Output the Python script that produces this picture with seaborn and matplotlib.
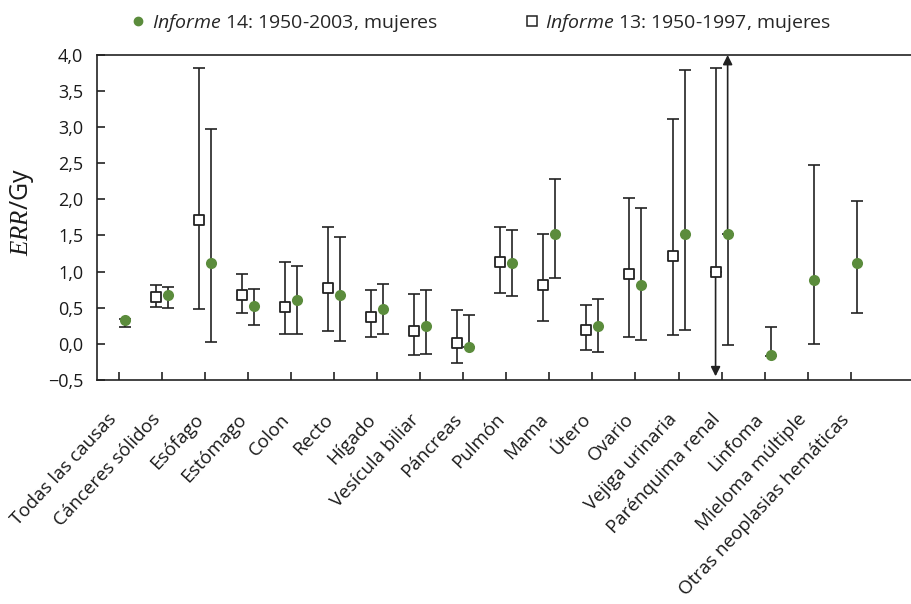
import matplotlib
matplotlib.use("Agg")
import matplotlib.pyplot as plt
import matplotlib.transforms as mtransforms
from matplotlib.lines import Line2D
import seaborn as sns
import numpy as np
import pandas as pd

categories = ["Todas las causas", "Cánceres sólidos", "Esófago", "Estómago", "Colon",
              "Recto", "Hígado", "Vesícula biliar", "Páncreas", "Pulmón", "Mama",
              "Útero", "Ovario", "Vejiga urinaria", "Parénquima renal", "Linfoma",
              "Mieloma múltiple", "Otras neoplasias hemáticas"]

# Informe 14 (1950-2003), mujeres
err14 = [0.33, 0.68, 1.12, 0.53, 0.60, 0.68, 0.48, 0.25, -0.04, 1.12, 1.52, 0.24,
         0.81, 1.52, 1.52, -0.16, 0.89, 1.12]
low14 = [0.23, 0.50, 0.02, 0.26, 0.14, 0.04, 0.13, -0.14, -0.05, 0.66, 0.91, -0.11,
         0.05, 0.19, -0.01, -0.17, 0.00, 0.42]
high14 = [0.34, 0.78, 2.98, 0.76, 1.08, 1.48, 0.83, 0.74, 0.40, 1.58, 2.28, 0.62,
          1.88, 3.79, 4.00, 0.23, 2.48, 1.98]
arrow_up14 = [False] * 14 + [True] + [False] * 3

# Informe 13 (1950-1997), mujeres
cats13 = categories[1:15]
err13 = [0.65, 1.72, 0.67, 0.51, 0.77, 0.37, 0.18, 0.01, 1.13, 0.82, 0.19, 0.97, 1.22, 0.99]
low13 = [0.51, 0.48, 0.42, 0.13, 0.18, 0.09, -0.15, -0.26, 0.70, 0.31, -0.08, 0.09, 0.12, -0.45]
high13 = [0.81, 3.82, 0.97, 1.13, 1.62, 0.74, 0.69, 0.47, 1.62, 1.52, 0.54, 2.02, 3.12, 3.82]
arrow_down13 = [False] * 13 + [True]

yticks = [-0.5, 0.0, 0.5, 1.0, 1.5, 2.0, 2.5, 3.0, 3.5, 4.0]
label14 = r"$\mathit{Informe}$ 14: 1950-2003, mujeres"
label13 = r"$\mathit{Informe}$ 13: 1950-1997, mujeres"

GREEN = "#5b8c3c"
INK = "#222222"
FONT = "Open Sans"

sns.set_theme(style="white")
plt.rcParams["font.family"] = [FONT, "DejaVu Sans"]
plt.rcParams["mathtext.fontset"] = "custom"
plt.rcParams["mathtext.rm"] = FONT
plt.rcParams["mathtext.it"] = FONT + ":italic"
plt.rcParams["mathtext.cal"] = "Liberation Serif:italic"

fig = plt.figure(figsize=(9.12, 6.04), dpi=100)
ax = fig.add_axes([0.1064, 0.371, 0.8936, 0.538])

off = 0.14
idx = {c: i for i, c in enumerate(categories)}

df14 = pd.DataFrame({"cat": categories, "err": err14, "low": low14, "high": high14,
                     "up": arrow_up14})
df14["x"] = df14["cat"].map(idx) + off
df13 = pd.DataFrame({"cat": cats13, "err": err13, "low": low13, "high": high13,
                     "down": arrow_down13})
df13["x"] = df13["cat"].map(idx) - off

ekw = dict(fmt="none", ecolor=INK, elinewidth=1.2, capsize=4, capthick=1.2, zorder=2)
akw = dict(arrowstyle="-|>", color=INK, lw=1.2, mutation_scale=14, shrinkA=0, shrinkB=0)

# Informe 13 error bars
lo13 = np.where(df13["down"], 0, df13["err"] - df13["low"])
hi13 = df13["high"] - df13["err"]
ax.errorbar(df13["x"], df13["err"], yerr=[lo13, hi13], **ekw)
for _, r in df13[df13["down"]].iterrows():
    ax.annotate("", xy=(r["x"], r["low"]), xytext=(r["x"], r["err"]),
                arrowprops=akw, zorder=2)

# Informe 14 error bars
lo14 = df14["err"] - df14["low"]
hi14 = np.where(df14["up"], 0, df14["high"] - df14["err"])
ax.errorbar(df14["x"], df14["err"], yerr=[lo14, hi14], **ekw)
for _, r in df14[df14["up"]].iterrows():
    ax.annotate("", xy=(r["x"], r["high"]), xytext=(r["x"], r["err"]),
                arrowprops=akw, zorder=2)

sns.scatterplot(data=df13, x="x", y="err", marker="s", s=60, color="white",
                edgecolor=INK, linewidth=1.3, ax=ax, zorder=3, legend=False)
sns.scatterplot(data=df14, x="x", y="err", marker="o", s=64, color=GREEN,
                edgecolor=GREEN, linewidth=0, ax=ax, zorder=3, legend=False)

ax.set_xlim(-0.5, 18.42)
ax.set_ylim(-0.5, 4.0)
ax.set_xticks(range(len(categories)))
ax.set_xticklabels(categories, rotation=47, ha="right", rotation_mode="anchor",
                   fontsize=13.5, color="#1a1a1a")
ax.set_yticks(yticks)
ax.set_yticklabels([("−" if v < 0 else "") + f"{abs(v):.1f}".replace(".", ",") for v in yticks],
                   fontsize=13, color="#1a1a1a")
ax.set_xlabel("")
ax.set_ylabel(r"$\mathcal{ERR}$/Gy", fontsize=18, color="#1a1a1a")
ax.yaxis.set_label_coords(-0.075, 0.517)

for s in ["left", "bottom", "top"]:
    ax.spines[s].set_visible(True)
    ax.spines[s].set_color(INK)
    ax.spines[s].set_linewidth(1.2)
ax.spines["right"].set_visible(False)
ax.tick_params(axis="both", direction="in", length=6, width=1.2, color=INK,
               bottom=True, left=True)
ax.tick_params(axis="y", pad=10)
ax.tick_params(axis="x", pad=22)
shift = mtransforms.ScaledTranslation(-8 / 72, 0, fig.dpi_scale_trans)
for lab in ax.get_xticklabels():
    lab.set_transform(lab.get_transform() + shift)
ax.grid(False)

handles = [Line2D([], [], marker="o", color="none", markerfacecolor=GREEN,
                  markeredgecolor=GREEN, markersize=6, label=label14),
           Line2D([], [], marker="s", color="none", markerfacecolor="white",
                  markeredgecolor=INK, markeredgewidth=1.1, markersize=7, label=label13)]
fig.legend(handles=handles, loc="upper left", bbox_to_anchor=(0.1305, 1.0), ncol=2,
           frameon=False, fontsize=14, handlelength=0.8, handletextpad=0.3,
           columnspacing=4.4, borderaxespad=0.2)

fig.savefig("out.png", dpi=100)
